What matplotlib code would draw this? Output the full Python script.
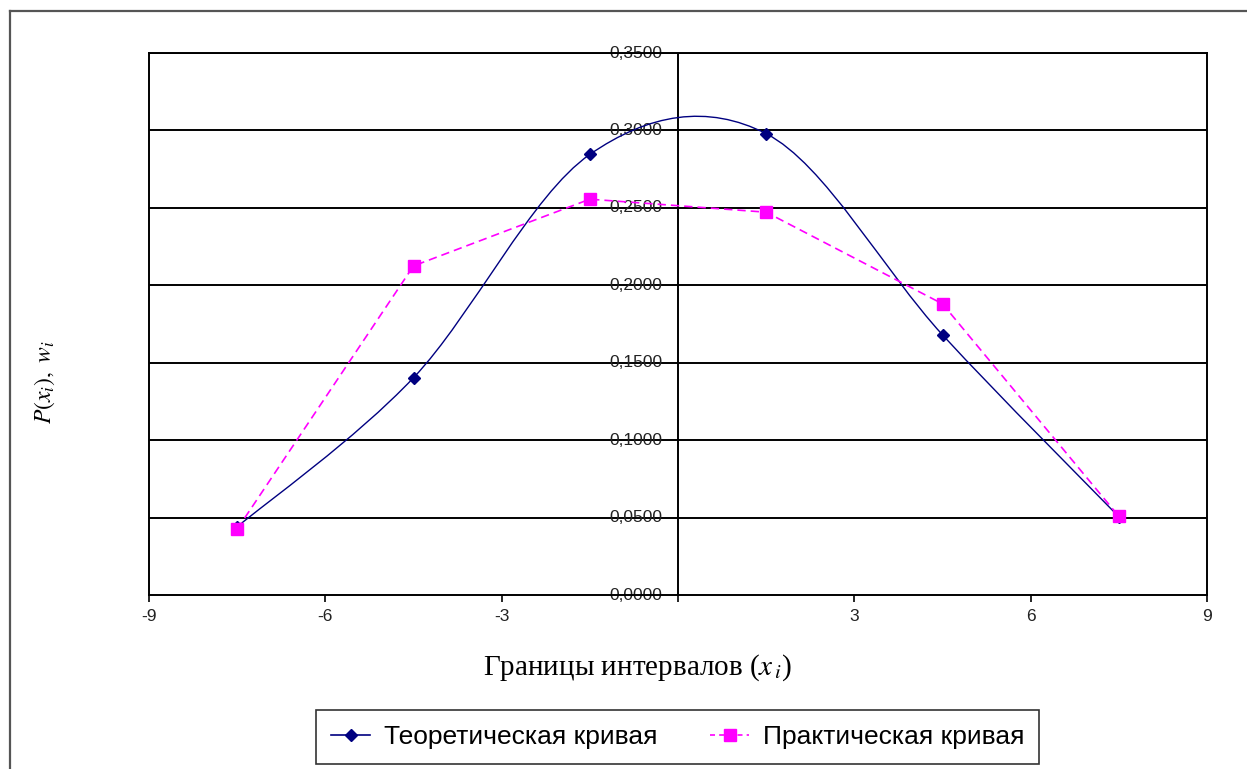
import matplotlib
matplotlib.use("Agg")
import matplotlib.pyplot as plt
from matplotlib.path import Path
from matplotlib.patches import PathPatch
from matplotlib.lines import Line2D
import numpy as np

plt.rcParams['mathtext.fontset'] = 'stix'

# interval midpoints and the two curves
x_mid = [-7.5, -4.5, -1.5, 1.5, 4.5, 7.5]
p_theor = [0.0440, 0.1403, 0.2845, 0.2979, 0.1680, 0.0505]
w_pract = [0.0425, 0.2125, 0.2556, 0.2472, 0.1880, 0.0508]

x_ticks = [-9, -6, -3, 0, 3, 6, 9]
x_labels = ['-9', '-6', '-3', '', '3', '6', '9']
y_ticks = [0.0, 0.05, 0.10, 0.15, 0.20, 0.25, 0.30, 0.35]
y_labels = ['%.4f' % v for v in y_ticks]
y_labels = [s.replace('.', ',') for s in y_labels]

label_theor = 'Теоретическая кривая'
label_pract = 'Практическая кривая'


def smooth_path(xs, ys):
    # cubic bezier through the points (catmull-rom style, like a spreadsheet smoothed line)
    pts = np.column_stack([xs, ys])
    n = len(pts)
    verts = [pts[0]]
    codes = [Path.MOVETO]
    for i in range(n - 1):
        p0 = pts[i - 1] if i > 0 else pts[i]
        p1 = pts[i]
        p2 = pts[i + 1]
        p3 = pts[i + 2] if i + 2 < n else pts[i + 1]
        c1 = p1 + (p2 - p0) / 6.0
        c2 = p2 - (p3 - p1) / 6.0
        verts += [c1, c2, p2]
        codes += [Path.CURVE4] * 3
    return Path(verts, codes)


fig = plt.figure(figsize=(12.47, 7.69), dpi=100)
ax = fig.add_axes([149 / 1247, 1 - 595 / 769, (1207 - 149) / 1247, (595 - 53) / 769])

# outer chart border (only top and left edges visible)
fig.add_artist(Line2D([9.5 / 1247, 9.5 / 1247], [0, 1 - 11 / 769], transform=fig.transFigure,
                      color='#555555', lw=1.6))
fig.add_artist(Line2D([9.5 / 1247, 1], [1 - 11 / 769, 1 - 11 / 769], transform=fig.transFigure,
                      color='#555555', lw=1.6))

ax.set_xlim(-9, 9)
ax.set_ylim(0, 0.35)

for yv in y_ticks[1:]:
    ax.axhline(yv, color='black', lw=1.4, zorder=1)
ax.axvline(0, color='black', lw=1.4, zorder=1)

# theoretical curve, smoothed
ax.add_patch(PathPatch(smooth_path(x_mid, p_theor), facecolor='none', edgecolor='#000080',
                       lw=1.0, zorder=3))
ax.plot(x_mid, p_theor, ls='none', marker='D', ms=6.5, color='#000080', zorder=4)

# practical curve
ax.plot(x_mid, w_pract, ls=(0, (5, 3)), lw=1.2, color='#FF00FF', marker='s', ms=9,
        zorder=5)

for side in ['top', 'right', 'bottom', 'left']:
    ax.spines[side].set_color('black')
    ax.spines[side].set_linewidth(1.4)

ax.set_xticks(x_ticks)
ax.set_xticklabels(x_labels, fontfamily='Liberation Sans', fontsize=12.5, color='#222222')
ax.tick_params(axis='x', direction='out', length=5, width=1.2, pad=5)

ax.set_yticks([])
for yv, lab in zip(y_ticks, y_labels):
    ax.text(-0.27, yv, lab, ha='right', va='center', fontsize=12.5,
            fontfamily='Liberation Sans', color='#222222', zorder=2)

fig.text(637 / 1247, 1 - 668 / 769, 'Границы интервалов ($x_{\\,i}$)',
         ha='center', va='center', fontsize=21, fontfamily='Liberation Serif')
fig.text(45 / 1247, 1 - 382 / 769, '$P(x_i),\\ w_i$', ha='center', va='center',
         rotation=90, fontsize=17)

handles = [Line2D([], [], color='#000080', lw=1.2, marker='D', ms=6),
           Line2D([], [], color='#FF00FF', lw=1.2, ls=(0, (3, 2.5)), marker='s', ms=8)]
leg = fig.legend(handles, [label_theor, label_pract], loc='center',
                 bbox_to_anchor=(677.5 / 1247, 1 - 737 / 769), ncol=2,
                 prop={'family': 'Liberation Sans', 'size': 19},
                 frameon=True, fancybox=False, edgecolor='black', handlelength=1.5,
                 handletextpad=0.5, columnspacing=2.0, borderpad=0.55)
leg.get_frame().set_linewidth(1.2)

fig.savefig('out.png', dpi=100, facecolor='white')
